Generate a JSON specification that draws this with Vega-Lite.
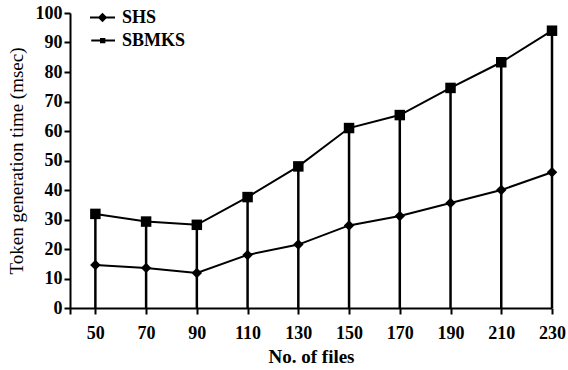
{
  "$schema": "https://vega.github.io/schema/vega-lite/v6.json",
  "width": 482,
  "height": 295,
  "autosize": "none",
  "padding": {"left": 70, "top": 13, "right": 16, "bottom": 62},
  "background": "white",
  "config": {
    "view": {"stroke": null},
    "font": "Liberation Serif",
    "axis": {
      "grid": false,
      "domainColor": "black",
      "domainWidth": 2,
      "tickColor": "black",
      "tickWidth": 2,
      "tickSize": 6,
      "labelFont": "Liberation Serif",
      "labelFontWeight": "bold",
      "labelFontSize": 18,
      "labelColor": "black",
      "titleFont": "Liberation Serif",
      "titleFontSize": 19,
      "titleColor": "black"
    }
  },
  "data": {
    "values": [
      {"files": 50, "series": "SHS", "time": 14.6},
      {"files": 70, "series": "SHS", "time": 13.6},
      {"files": 90, "series": "SHS", "time": 11.9},
      {"files": 110, "series": "SHS", "time": 18.0},
      {"files": 130, "series": "SHS", "time": 21.5},
      {"files": 150, "series": "SHS", "time": 28.0},
      {"files": 170, "series": "SHS", "time": 31.2},
      {"files": 190, "series": "SHS", "time": 35.6},
      {"files": 210, "series": "SHS", "time": 40.0},
      {"files": 230, "series": "SHS", "time": 46.0},
      {"files": 50, "series": "SBMKS", "time": 31.9},
      {"files": 70, "series": "SBMKS", "time": 29.3},
      {"files": 90, "series": "SBMKS", "time": 28.2},
      {"files": 110, "series": "SBMKS", "time": 37.6},
      {"files": 130, "series": "SBMKS", "time": 48.0},
      {"files": 150, "series": "SBMKS", "time": 61.0},
      {"files": 170, "series": "SBMKS", "time": 65.4},
      {"files": 190, "series": "SBMKS", "time": 74.6},
      {"files": 210, "series": "SBMKS", "time": 83.3},
      {"files": 230, "series": "SBMKS", "time": 94.0}
    ]
  },
  "encoding": {
    "x": {
      "field": "files",
      "type": "quantitative",
      "scale": {"domain": [40, 230], "nice": false, "zero": false},
      "axis": {
        "title": "No. of files",
        "titleFontWeight": "bold",
        "titlePadding": 5,
        "values": [40, 50, 70, 90, 110, 130, 150, 170, 190, 210, 230],
        "labelExpr": "datum.value == 40 ? '' : datum.label",
        "labelPadding": 10,
        "labelFlush": false,
        "labelOverlap": false
      }
    },
    "y": {
      "field": "time",
      "type": "quantitative",
      "scale": {"domain": [0, 100], "nice": false},
      "axis": {
        "title": "Token generation time (msec)",
        "titleFontWeight": "normal",
        "titleFontSize": 19,
        "values": [0, 10, 20, 30, 40, 50, 60, 70, 80, 90, 100],
        "labelOverlap": false,
        "labelFlush": false,
        "labelPadding": 2,
        "titlePadding": 9
      }
    }
  },
  "layer": [
    {
      "transform": [{"filter": "datum.series == 'SBMKS'"}],
      "mark": {"type": "rule", "color": "black", "strokeWidth": 2.5},
      "encoding": {"y2": {"datum": 0}}
    },
    {
      "mark": {"type": "line", "color": "black", "strokeWidth": 2},
      "encoding": {"detail": {"field": "series"}}
    },
    {
      "mark": {"type": "point", "filled": true, "color": "black", "opacity": 1, "size": 110},
      "encoding": {
        "shape": {
          "field": "series",
          "type": "nominal",
          "scale": {"domain": ["SHS", "SBMKS"], "range": ["diamond", "square"]},
          "legend": null
        }
      }
    },
    {
      "mark": {"type": "point", "filled": true, "color": "black", "opacity": 0},
      "encoding": {
        "shape": {
          "field": "series",
          "type": "nominal",
          "scale": {
            "domain": ["SHS", "SBMKS"],
            "range": [
              "M-1,-0.08H1V0.08H-1ZM0,-0.38L0.38,0L0,0.38L-0.38,0Z",
              "M-0.9,-0.08H1V0.08H-0.9ZM-0.2,-0.21H0.23V0.22H-0.2Z"
            ]
          },
          "legend": {
            "title": null,
            "orient": "none",
            "legendX": 20,
            "legendY": -8,
            "symbolSize": 625,
            "symbolFillColor": "black",
            "symbolStrokeColor": "black",
            "symbolStrokeWidth": 0,
            "symbolOpacity": 1,
            "labelFont": "Liberation Serif",
            "labelFontSize": 18,
            "labelFontWeight": "bold",
            "labelColor": "black",
            "labelOffset": 7,
            "rowPadding": 1
          }
        }
      }
    }
  ],
  "resolve": {"scale": {"shape": "independent"}}
}
